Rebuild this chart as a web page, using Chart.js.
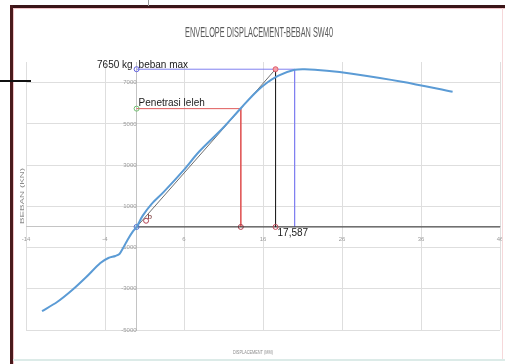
<!DOCTYPE html>
<html>
<head>
<meta charset="utf-8">
<script src="https://cdn.jsdelivr.net/npm/chart.js@4"></script>
<style>
  html, body { margin: 0; padding: 0; background: #fff; }
  #wrap { position: relative; width: 505px; height: 364px; overflow: hidden; background: #fff; }
  #c { position: absolute; left: 0; top: 0; }
  .f { position: absolute; }
</style>
</head>
<body>
<div id="wrap">
  <canvas id="c" width="505" height="364"></canvas>
  <div class="f" style="left:10px;top:5px;width:495px;height:3px;background:#3b1518"></div>
  <div class="f" style="left:10px;top:5px;width:3px;height:359px;background:#4a1a1c"></div>
  <div class="f" style="left:13px;top:8px;width:1px;height:356px;background:#f2c4c8"></div>
  <div class="f" style="left:13px;top:8px;width:492px;height:1px;background:#f2c4c8"></div>
  <div class="f" style="left:502px;top:8px;width:1px;height:352px;background:#f6d8da"></div>
  <div class="f" style="left:13px;top:359px;width:492px;height:2px;background:#dcebe8"></div>
  <div class="f" style="left:0;top:80px;width:31px;height:2px;background:#111"></div>
  <div class="f" style="left:148px;top:0;width:1px;height:6px;background:#999"></div>
</div>
<script>
// Envelope curve: displacement (mm) vs load (kg)
const dispMm = [-11.97, -10.06, -8.15, -6.37, -4.59, -3.57, -2.68, -2.17, -1.78, -1.15, -0.51, 0,
                0.76, 1.91, 3.44, 5.99, 7.9, 10.96, 13.25, 14.78, 16.18, 17.96, 20.0, 21.3,
                24.08, 27.26, 33.6, 40.0];
const loadKg = [-4082, -3644, -3061, -2430, -1749, -1506, -1409, -1312, -1069, -632, -243, 0,
                534, 1118, 1701, 2770, 3644, 4810, 5782, 6414, 6900, 7337, 7620, 7650,
                7580, 7434, 7046, 6560];

// Key values of the bilinear idealisation
const maxLoad = 7650;        // beban max
const yieldLoad = 5737.5;    // 0.75 x beban max
const yieldDisp = 13.19;     // penetrasi leleh
const ultDisp = 17.587;      // displacement at intersection
const peakDisp = 20.0;       // displacement at beban max
const axisEndX = 46;

// Axis ticks
const xTicks = [-14, -4, 6, 16, 26, 36, 46];
const yTicks = [-5000, -3000, -1000, 1000, 3000, 5000, 7000];

const chartTitle = 'ENVELOPE DISPLACEMENT-BEBAN SW40';

const envelope = dispMm.map((x, i) => ({ x: x, y: loadKg[i] }));

const tickFont = { family: '"Liberation Sans","DejaVu Sans",sans-serif', size: 6 };

// Narrow text: draw horizontally squeezed to a target width
function narrowText(ctx, text, x, y, width) {
  const w = ctx.measureText(text).width;
  ctx.save();
  ctx.translate(x, y);
  ctx.scale(width / w, 1);
  ctx.textAlign = 'center';
  ctx.fillText(text, 0, 0);
  ctx.restore();
}

const labelPlugin = {
  id: 'labels',
  afterDatasetsDraw(chart) {
    const ctx = chart.ctx;
    const xs = chart.scales.x, ys = chart.scales.y;
    ctx.save();
    ctx.textBaseline = 'middle';

    // title
    ctx.fillStyle = '#5a5a5a';
    ctx.font = '14px "Liberation Sans", Arial, sans-serif';
    narrowText(ctx, chartTitle, 259, 33, 148);

    ctx.fillStyle = '#1a1a1a';
    ctx.font = '10px "Liberation Sans", Arial, sans-serif';
    const x0 = xs.getPixelForValue(0);
    const yMax = ys.getPixelForValue(maxLoad);
    ctx.textAlign = 'right';
    ctx.fillText(maxLoad + ' kg', x0 - 4, yMax - 4);
    ctx.textAlign = 'left';
    ctx.fillText('beban max', x0 + 2, yMax - 4);
    const yY = ys.getPixelForValue(yieldLoad);
    ctx.fillText('Penetrasi leleh', x0 + 2, yY - 5);
    ctx.fillText(ultDisp.toFixed(3).replace('.', ','), xs.getPixelForValue(ultDisp) + 2, ys.getPixelForValue(0) + 6);
    ctx.fillStyle = '#6b2020';
    ctx.font = '8px "Liberation Sans", Arial, sans-serif';
    ctx.fillText('b', x0 + 11, ys.getPixelForValue(0) - 10);

    // axis titles
    ctx.fillStyle = '#8c8c8c';
    ctx.font = '6px "Liberation Sans", sans-serif';
    narrowText(ctx, 'DISPLACEMENT (MM)', 253, 352, 40);
    ctx.translate(22, 196);
    ctx.rotate(-Math.PI / 2);
    narrowText(ctx, 'BEBAN (KN)', 0, 0, 56);
    ctx.restore();
  }
};

new Chart(document.getElementById('c'), {
  type: 'scatter',
  data: {
    datasets: [
      {
        data: envelope, showLine: true, borderColor: '#5b9bd5', borderWidth: 2,
        tension: 0.3, pointRadius: 0
      },
      {
        data: [{ x: 0, y: 0 }, { x: ultDisp, y: maxLoad }], showLine: true,
        borderColor: '#6d6d6d', borderWidth: 1, tension: 0,
        pointRadius: [2.5, 2.5], pointBorderColor: ['#4b6fd0', '#e05a6a'],
        pointBackgroundColor: ['rgba(255,255,255,0)', '#f2a0a8'], pointBorderWidth: 1
      },
      {
        data: [{ x: ultDisp, y: maxLoad }, { x: ultDisp, y: 0 }], showLine: true,
        borderColor: '#222', borderWidth: 1, tension: 0,
        pointRadius: [0, 2.5], pointBorderColor: '#c04a5a', pointBackgroundColor: 'rgba(255,255,255,0)', pointBorderWidth: 1
      },
      {
        data: [{ x: 0, y: 0 }, { x: axisEndX, y: 0 }], showLine: true,
        borderColor: '#333', borderWidth: 1, tension: 0, pointRadius: 0
      },
      {
        data: [{ x: 0, y: maxLoad }, { x: peakDisp, y: maxLoad }, { x: peakDisp, y: 0 }], showLine: true,
        borderColor: '#8080f0', borderWidth: 1, tension: 0,
        pointRadius: [2.5, 0, 0], pointBorderColor: '#6060e0', pointBackgroundColor: 'rgba(255,255,255,0)', pointBorderWidth: 1
      },
      {
        data: [{ x: 0, y: yieldLoad }, { x: yieldDisp, y: yieldLoad }, { x: yieldDisp, y: 0 }], showLine: true,
        borderColor: '#e05a5a', borderWidth: 1, tension: 0,
        pointRadius: [2.5, 0, 2.5], pointBorderColor: ['#70c070', '#e05a5a', '#b04050'],
        pointBackgroundColor: 'rgba(255,255,255,0)', pointBorderWidth: 1
      },
      {
        data: [{ x: 1.2, y: 300 }], showLine: false,
        pointRadius: 2.5, pointBorderColor: '#b04050', pointBackgroundColor: 'rgba(255,255,255,0)', pointBorderWidth: 1
      }
    ]
  },
  options: {
    responsive: false,
    animation: false,
    devicePixelRatio: 1,
    layout: { padding: { left: 26, right: 0, top: 62, bottom: 34 } },
    plugins: {
      legend: { display: false },
      tooltip: { enabled: false },
      title: { display: false }
    },
    scales: {
      x: {
        type: 'linear', min: -14, max: 46, position: { y: 0 },
        afterBuildTicks: s => { s.ticks = xTicks.map(v => ({ value: v })); },
        afterFit: s => { s.height = 0; s.paddingLeft = 0; s.paddingRight = 0; },
        grid: { color: '#dedede', drawTicks: false },
        border: { color: '#c4c4c4' },
        ticks: { color: '#9a9a9a', font: tickFont, padding: 9, maxRotation: 0, autoSkip: false,
                 callback: v => String(v) }
      },
      y: {
        type: 'linear', min: -5000, max: 8000, position: { x: 0 },
        afterBuildTicks: s => { s.ticks = yTicks.map(v => ({ value: v })); },
        afterFit: s => { s.width = 0; s.paddingTop = 0; s.paddingBottom = 0; },
        grid: { color: '#dedede', drawTicks: false },
        border: { color: '#c4c4c4' },
        ticks: { color: '#9a9a9a', font: tickFont, padding: 4, autoSkip: false,
                 callback: v => String(v) }
      }
    }
  },
  plugins: [labelPlugin]
});
</script>
</body>
</html>
